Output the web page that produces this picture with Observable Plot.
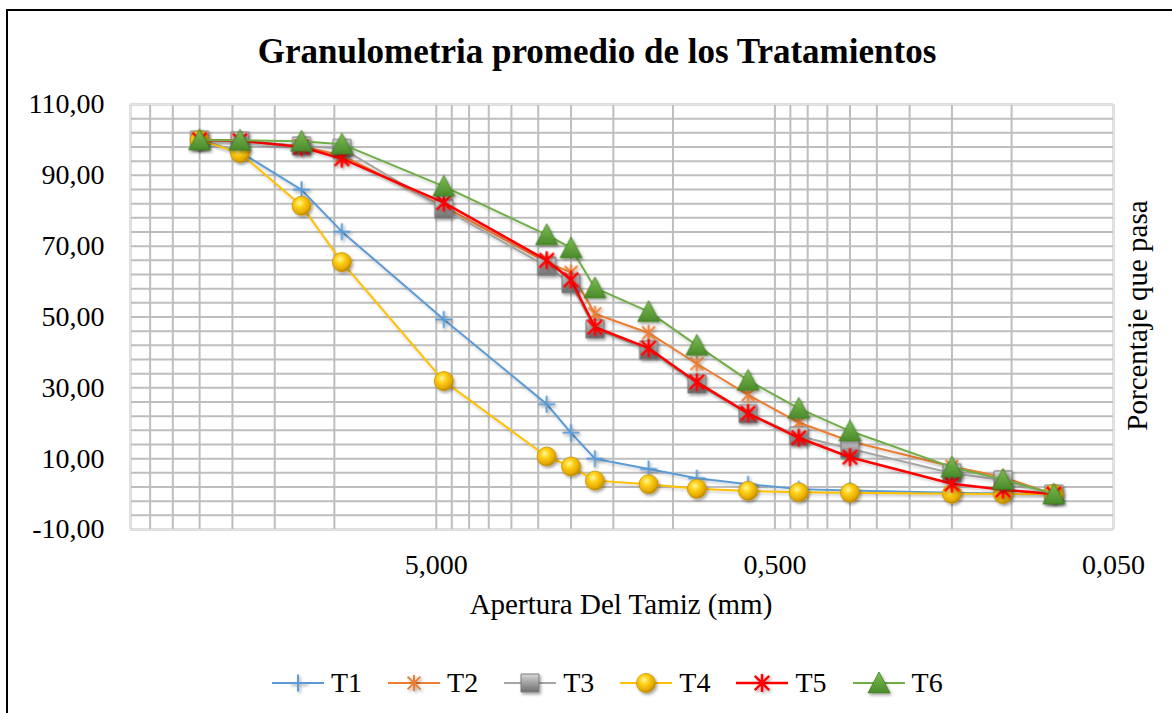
<!DOCTYPE html>
<html>
<head>
<meta charset="utf-8">
<script src="https://cdn.jsdelivr.net/npm/d3@7"></script>
<script src="https://cdn.jsdelivr.net/npm/@observablehq/plot@0.6"></script>
<style>
  html, body { margin: 0; padding: 0; background: #fff; overflow: hidden; }
  #page { position: relative; width: 1172px; height: 713px; font-family: "Liberation Serif", "Times New Roman", serif; color: #000; }
  #chart { position: absolute; left: 0; top: 80px; }
  #frame { position: absolute; left: 6px; top: 9px; width: 1300px; height: 900px; border-left: 2px solid #000; border-top: 2px solid #000; pointer-events: none; }
  #title { position: absolute; left: 0; width: 1194px; top: 34px; text-align: center; font-weight: bold; font-size: 35px; line-height: 35px; white-space: nowrap; font-family: "Liberation Serif", serif; }
  #xtitle { position: absolute; left: 0; width: 1242px; top: 590px; text-align: center; font-size: 29px; line-height: 29px; white-space: nowrap; font-family: "Liberation Serif", serif; }
  #ytitle { position: absolute; left: 937px; top: 301px; width: 400px; height: 29px; text-align: center; font-size: 29px; line-height: 29px; white-space: nowrap; transform: rotate(-90deg); font-family: "Liberation Serif", serif; }
  #legend { position: absolute; left: 272px; top: 669px; display: flex; gap: 26px; font-size: 28px; line-height: 28px; white-space: nowrap; font-family: "Liberation Serif", serif; }
  .item { display: flex; align-items: center; gap: 7px; }
  .item svg { display: block; overflow: visible; }
</style>
</head>
<body>
<div id="page">
  <svg width="0" height="0" style="position:absolute">
    <defs>
      <linearGradient id="gSquare" x1="0" y1="0" x2="0" y2="1">
        <stop offset="0" stop-color="#d9d9d9"/>
        <stop offset="0.45" stop-color="#a6a6a6"/>
        <stop offset="1" stop-color="#6e6e6e"/>
      </linearGradient>
      <radialGradient id="gSphere" cx="0.4" cy="0.35" r="0.65">
        <stop offset="0" stop-color="#fff6a8"/>
        <stop offset="0.35" stop-color="#ffd21a"/>
        <stop offset="0.8" stop-color="#e5aa00"/>
        <stop offset="1" stop-color="#b98600"/>
      </radialGradient>
      <linearGradient id="gTri" x1="0" y1="0" x2="0" y2="1">
        <stop offset="0" stop-color="#7fbf55"/>
        <stop offset="1" stop-color="#4a8a2a"/>
      </linearGradient>
      <filter id="shadow" x="-50%" y="-50%" width="200%" height="200%">
        <feDropShadow dx="1.5" dy="2" stdDeviation="1.5" flood-color="#000" flood-opacity="0.35"/>
      </filter>
      <filter id="lshadow" x="-5%" y="-5%" width="110%" height="110%">
        <feDropShadow dx="1" dy="2" stdDeviation="1.5" flood-color="#000" flood-opacity="0.2"/>
      </filter>
    </defs>
  </svg>
  <div id="title">Granulometria promedio de los Tratamientos</div>
  <div id="chart"></div>
  <div id="xtitle">Apertura Del Tamiz (mm)</div>
  <div id="ytitle">Porcentaje que pasa</div>
  <div id="legend"></div>
  <div id="frame"></div>
</div>
<script>
// ---- Data ----
const sieveSizes = [25, 19, 12.5, 9.5, 4.75, 2.36, 2.0, 1.7, 1.18, 0.85, 0.6, 0.425, 0.3, 0.15, 0.106, 0.075];
const seriesNames = ["T1", "T2", "T3", "T4", "T5", "T6"];
const T1 = [100, 96.6, 85.9, 74.1, 49.3, 25.4, 17.3, 10.0, 7.1, 4.5, 2.8, 1.4, 1.0, 0.4, 0.2, 0.0];
const T2 = [100, 99.6, 98.2, 95.6, 81.2, 65.4, 62.6, 50.9, 45.5, 36.8, 28.0, 20.2, 14.9, 7.8, 4.8, 0.0];
const T3 = [100, 99.7, 98.3, 97.6, 80.5, 64.3, 59.4, 46.6, 40.7, 31.1, 22.7, 16.4, 12.8, 5.9, 4.0, 0.0];
const T4 = [100, 96.3, 81.4, 65.5, 31.9, 10.6, 7.8, 3.8, 2.8, 1.5, 0.9, 0.5, 0.4, 0.1, 0.0, 0.0];
const T5 = [100, 99.8, 98.0, 94.7, 82.3, 66.0, 60.5, 47.1, 41.2, 31.6, 22.8, 15.9, 10.4, 2.9, 1.2, 0.0];
const T6 = [100, 99.9, 99.6, 98.8, 86.9, 73.2, 69.5, 58.2, 51.5, 42.0, 32.1, 24.2, 17.8, 7.6, 4.1, 0.0];
const seriesValues = [T1, T2, T3, T4, T5, T6];
const yTicks = [-10, 10, 30, 50, 70, 90, 110];
const xTicks = [5, 0.5, 0.05];
const xDomain = [40, 0.05];
const yDomain = [-10, 110];

// ---- Marker shapes (Excel-like) ----
const rOf = size => Math.sqrt(size / Math.PI);
const symPlus = {draw(c, s) { const r = rOf(s); c.moveTo(-r, 0); c.lineTo(r, 0); c.moveTo(0, -r); c.lineTo(0, r); }};
const symStar = {draw(c, s) { const r = rOf(s), d = r * 0.8; c.moveTo(0, -r); c.lineTo(0, r); c.moveTo(-d, -d); c.lineTo(d, d); c.moveTo(-d, d); c.lineTo(d, -d); }};
const symSquare = {draw(c, s) { const r = rOf(s); c.rect(-r, -r, 2 * r, 2 * r); }};
const symTri = {draw(c, s) { const r = rOf(s); c.moveTo(0, -r); c.lineTo(r, r * 0.9); c.lineTo(-r, r * 0.9); c.closePath(); }};
const symCircle = d3.symbolCircle;

const styles = {
  T1: {color: "#5b9bd5", width: 2, sym: symPlus, r: 8.5, fill: "none", stroke: "#5b9bd5", sw: 2},
  T2: {color: "#ed7d31", width: 2, sym: symStar, r: 8, fill: "none", stroke: "#ed7d31", sw: 2},
  T3: {color: "#a5a5a5", width: 2, sym: symSquare, r: 9, fill: "url(#gSquare)", stroke: "#7a7a7a", sw: 1},
  T4: {color: "#ffc000", width: 2, sym: symCircle, r: 9.5, fill: "url(#gSphere)", stroke: "#c89400", sw: 0.8},
  T5: {color: "#ff0000", width: 2.5, sym: symStar, r: 9, fill: "none", stroke: "#ff0000", sw: 2.5},
  T6: {color: "#70ad47", width: 2, sym: symTri, r: 11, fill: "url(#gTri)", stroke: "#3f7a22", sw: 0.8}
};

// ---- Table ----
const rows = seriesNames.flatMap((name, i) =>
  seriesValues[i].map((v, j) => ({series: name, size: sieveSizes[j], pct: v})));

// grid positions (log minor units, and every 4 %)
const xGrid = [0.05, 0.5, 5].flatMap(d => d3.range(1, 10).map(k => +(d * k).toPrecision(6))).filter(v => v <= 40);
const yGrid = d3.range(-10, 111, 4);

const fmt = (digits) => d => d.toFixed(digits).replace(".", ",");
const serif = "Liberation Serif";

const marks = [
  Plot.ruleX(xGrid, {stroke: "#bebebe", strokeWidth: 2}),
  Plot.ruleY(yGrid, {stroke: "#bebebe", strokeWidth: 2}),
  Plot.frame({stroke: "#e3e3e3"}),
  // axis tick labels
  Plot.text(yTicks, {y: d => d, frameAnchor: "left", dx: -26, textAnchor: "end", text: fmt(2), fontSize: 28, fontFamily: serif, fill: "#000"}),
  Plot.text(xTicks, {x: d => d, frameAnchor: "bottom", dy: 25, lineAnchor: "top", text: fmt(3), fontSize: 28, fontFamily: serif, fill: "#000"})
];
for (const name of seriesNames) {
  const st = styles[name];
  const data = rows.filter(d => d.series === name);
  marks.push(Plot.line(data, {x: "size", y: "pct", stroke: st.color, strokeWidth: st.width}));
  marks.push(Plot.dot(data, {x: "size", y: "pct", symbol: st.sym, r: st.r, fill: st.fill, stroke: st.stroke, strokeWidth: st.sw}));
}

const chart = Plot.plot({
  width: 1172,
  height: 550,
  marginLeft: 130,
  marginRight: 59,
  marginTop: 24,
  marginBottom: 101,
  style: {fontFamily: serif, fontSize: "28px", color: "#000", background: "transparent", overflow: "visible"},
  x: {type: "log", domain: xDomain, axis: null},
  y: {domain: yDomain, axis: null},
  marks
});
document.getElementById("chart").appendChild(chart);
chart.querySelectorAll('g[aria-label="dot"]').forEach(g => g.setAttribute("filter", "url(#shadow)"));
chart.querySelectorAll('g[aria-label="line"], path[aria-label="line"]').forEach(g => g.setAttribute("filter", "url(#lshadow)"));

// ---- Legend ----
const legend = d3.select("#legend");
for (const name of seriesNames) {
  const st = styles[name];
  const item = legend.append("div").attr("class", "item");
  const svg = item.append("svg").attr("width", 52).attr("height", 24);
  svg.append("line").attr("x1", 0).attr("x2", 52).attr("y1", 12).attr("y2", 12)
    .attr("stroke", st.color).attr("stroke-width", st.width);
  svg.append("path").attr("transform", "translate(26,12)")
    .attr("d", d3.symbol().type(st.sym).size(st.r * st.r * Math.PI)())
    .attr("fill", st.fill).attr("stroke", st.stroke).attr("stroke-width", st.sw)
    .attr("filter", "url(#shadow)");
  item.append("span").text(name);
}
</script>
</body>
</html>
